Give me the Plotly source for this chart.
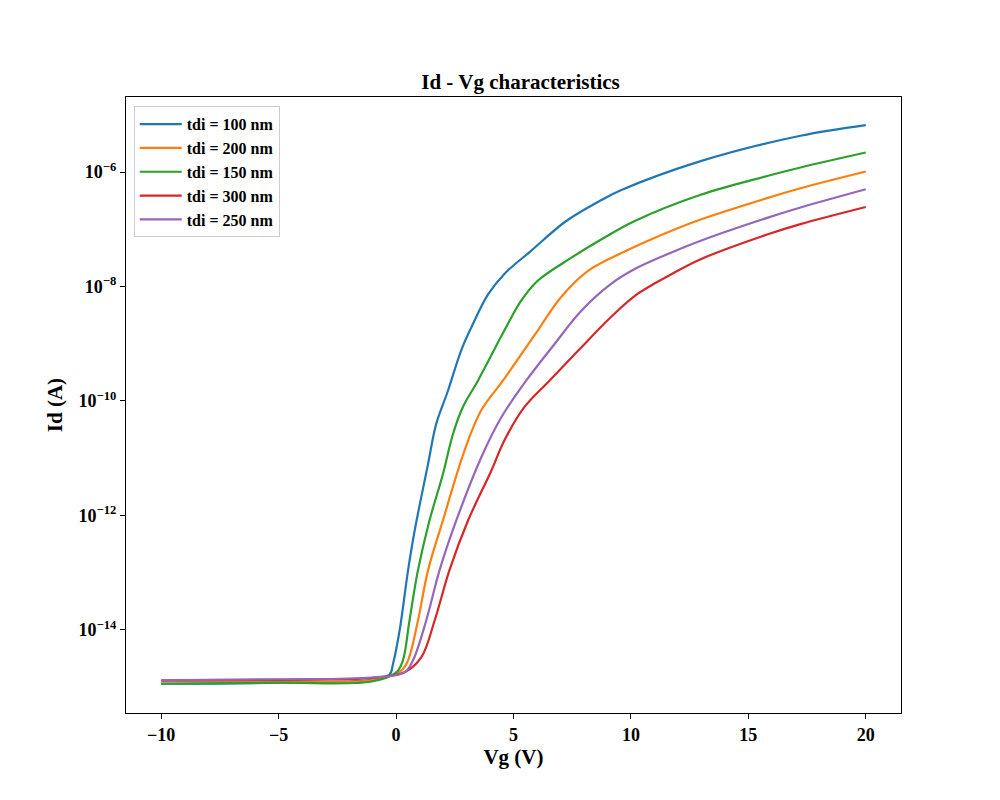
import plotly.graph_objects as go

# Vg sweep points (V) and drain current (A), one pair of lists per oxide thickness
vg_100 = [-10, -5, -1.05, -0.28, -0.13, 0.15, 0.51, 0.79, 1.36, 1.71, 2.21, 2.77, 3.20, 3.91, 4.61,
          5.75, 7.23, 8.72, 9.57, 12.97, 17.22, 20]
id_100 = [1.15e-15, 1.20e-15, 1.35e-15, 1.66e-15, 2.57e-15, 9.8e-15, 1.10e-13, 5.4e-13, 7.9e-12, 3.98e-11,
          1.51e-10, 7.6e-10, 1.91e-9, 7.2e-9, 1.66e-8, 4.2e-8, 1.38e-7, 3.2e-7, 4.8e-7, 1.55e-6,
          4.3e-6, 6.6e-6]

vg_150 = [-10, -5, -1.05, 0.01, 0.29, 0.57, 0.93, 1.42, 1.99, 2.42, 2.84, 3.48, 4.61, 5.32, 6.03, 7.45,
          8.86, 10.14, 12.97, 15.8, 17.22, 20]
id_150 = [1.15e-15, 1.20e-15, 1.26e-15, 1.82e-15, 2.95e-15, 1.45e-14, 1.10e-13, 8.1e-13, 5.2e-12, 2.63e-11,
          7.8e-11, 2.24e-10, 1.70e-9, 5.6e-9, 1.26e-8, 3.16e-8, 7.1e-8, 1.38e-7, 4.0e-7, 8.5e-7,
          1.20e-6, 2.19e-6]

vg_200 = [-10, -5, -1.05, 0.22, 0.51, 0.93, 1.36, 1.99, 2.91, 3.62, 4.54, 6.03, 7.02, 8.16, 9.8, 11.7,
          12.97, 15.8, 17.22, 20]
id_200 = [1.26e-15, 1.29e-15, 1.32e-15, 1.95e-15, 2.95e-15, 1.45e-14, 1.10e-13, 8.1e-13, 1.35e-11, 6.8e-11,
          2.24e-10, 1.70e-9, 6.5e-9, 1.86e-8, 4.2e-8, 9.3e-8, 1.48e-7, 3.5e-7, 5.2e-7, 1.02e-6]

vg_250 = [-10, -5, -1.05, 0.36, 0.72, 1.28, 1.85, 2.56, 3.62, 4.47, 5.53, 6.74, 7.87, 9.14, 10.28, 11.7,
          12.97, 15.8, 17.22, 20]
id_250 = [1.32e-15, 1.38e-15, 1.48e-15, 1.82e-15, 2.95e-15, 1.45e-14, 1.10e-13, 8.1e-13, 1.02e-11, 5.1e-11,
          2.24e-10, 9.8e-10, 3.7e-9, 1.10e-8, 2.14e-8, 3.9e-8, 6.3e-8, 1.58e-7, 2.40e-7, 5.0e-7]

vg_300 = [-10, -5, -1.05, 0.36, 1.07, 1.64, 2.27, 3.06, 4.05, 4.61, 5.46, 6.52, 7.87, 9.14, 10.28, 11.7,
          12.97, 15.8, 17.22, 20]
id_300 = [1.32e-15, 1.35e-15, 1.45e-15, 1.82e-15, 3.31e-15, 1.45e-14, 1.10e-13, 8.1e-13, 6.0e-12, 2.04e-11,
          7.8e-11, 2.24e-10, 8.5e-10, 2.9e-9, 7.4e-9, 1.62e-8, 3.0e-8, 8.1e-8, 1.23e-7, 2.45e-7]

# legend order as in the original figure
series = [
    ("tdi = 100 nm", vg_100, id_100, "#1f77b4"),
    ("tdi = 200 nm", vg_200, id_200, "#ff7f0e"),
    ("tdi = 150 nm", vg_150, id_150, "#2ca02c"),
    ("tdi = 300 nm", vg_300, id_300, "#d62728"),
    ("tdi = 250 nm", vg_250, id_250, "#9467bd"),
]

y_tickvals = [1e-14, 1e-12, 1e-10, 1e-8, 1e-6]
y_ticktext = ["10<sup>\u221214</sup>", "10<sup>\u221212</sup>", "10<sup>\u221210</sup>",
              "10<sup>\u22128</sup>", "10<sup>\u22126</sup>"]
x_tickvals = [-10, -5, 0, 5, 10, 15, 20]

serif = "Liberation Serif, Times New Roman, serif"

fig = go.Figure()
for name, vg, cur, color in series:
    fig.add_trace(go.Scatter(x=vg, y=cur, mode="lines", name=name,
                             line=dict(color=color, width=2.2, shape="spline", smoothing=1.0)))

fig.update_layout(
    width=1000, height=800,
    paper_bgcolor="white", plot_bgcolor="white",
    margin=dict(l=118, r=107, t=89, b=95),
    font=dict(family=serif, color="black"),
    title=dict(text="<b>Id - Vg characteristics</b>", x=0.5125, xanchor="center",
               y=0.899, yanchor="bottom", font=dict(size=21)),
    legend=dict(x=0.01, y=0.985, xanchor="left", yanchor="top", itemwidth=42,
                bgcolor="rgba(255,255,255,0.8)", bordercolor="#cccccc", borderwidth=1,
                font=dict(size=16, family=serif, weight="bold")),
    showlegend=True,
)

fig.update_xaxes(
    range=[-11.5, 21.5], tickvals=x_tickvals, showgrid=False, zeroline=False,
    showline=True, linecolor="black", linewidth=1.2, mirror=True,
    ticks="outside", ticklen=5, tickcolor="black",
    tickfont=dict(size=18, family=serif, weight="bold"),
    title=dict(text="<b>Vg (V)</b>", font=dict(size=21), standoff=0),
)
fig.update_yaxes(
    type="log", range=[-15.45, -4.69], tickvals=y_tickvals, ticktext=y_ticktext,
    showgrid=False, zeroline=False,
    showline=True, linecolor="black", linewidth=1.2, mirror=True,
    ticks="outside", ticklen=5, tickcolor="black",
    tickfont=dict(size=18, family=serif, weight="bold"),
    title=dict(text="<b>Id (A)</b>", font=dict(size=21), standoff=10),
)

fig.write_html("out.html")
